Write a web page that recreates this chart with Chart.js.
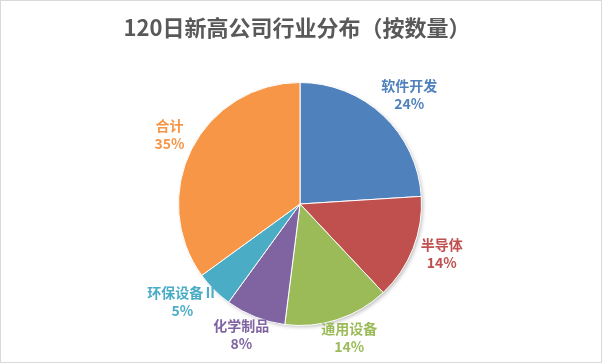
<!DOCTYPE html>
<html>
<head>
<meta charset="utf-8">
<script src="https://cdn.jsdelivr.net/npm/chart.js@4"></script>
<style>
  html, body { margin: 0; padding: 0; background: #fff; }
  #wrap { width: 602px; height: 363px; position: relative; }
</style>
</head>
<body>
<div id="wrap"><canvas id="pie"></canvas></div>
<script>
const chartTitle = '120日新高公司行业分布（按数量）';
const industries = ['软件开发', '半导体', '通用设备', '化学制品', '环保设备Ⅱ', '合计'];
const shares = [24, 14, 14, 8, 5, 35];
const sliceColors = ['#4F81BD', '#C0504D', '#9BBB59', '#8064A2', '#4BACC6', '#F79646'];

const labelFont = 'bold 14px "Noto Sans CJK SC", sans-serif';

// 标题 + 外框
const frame = {
  id: 'frame',
  beforeDraw(chart) {
    const c = chart.ctx;
    c.save();
    c.fillStyle = '#fff';
    c.fillRect(0, 0, chart.width, chart.height);
    c.strokeStyle = '#D9D9D9';
    c.lineWidth = 1;
    c.strokeRect(0.5, 0.5, chart.width - 1, chart.height - 1);
    c.fillStyle = '#595959';
    c.font = 'bold 22px "Noto Sans CJK SC", sans-serif';
    c.textAlign = 'center';
    c.textBaseline = 'middle';
    c.fillText(chartTitle, chart.width / 2 - 4, 28);
    c.restore();
  },
  // 饼图下的淡阴影
  beforeDatasetsDraw(chart) {
    const arc = chart.getDatasetMeta(0).data[0];
    if (!arc) return;
    const p = arc.getProps(['x', 'y', 'outerRadius'], true);
    const c = chart.ctx;
    c.save();
    c.shadowColor = 'rgba(0,0,0,0.3)';
    c.shadowBlur = 4;
    c.shadowOffsetX = 2;
    c.shadowOffsetY = 2;
    c.fillStyle = '#fff';
    c.beginPath();
    c.arc(p.x, p.y, p.outerRadius - 1, 0, Math.PI * 2);
    c.fill();
    c.restore();
  }
};

// 扇区外侧的数据标签（类别名 + 百分比）
const outsideLabels = {
  id: 'outsideLabels',
  afterDatasetsDraw(chart) {
    const c = chart.ctx;
    const meta = chart.getDatasetMeta(0);
    const total = shares.reduce((a, b) => a + b, 0);
    c.save();
    c.font = labelFont;
    c.textAlign = 'center';
    c.textBaseline = 'middle';
    meta.data.forEach((arc, i) => {
      const p = arc.getProps(['x', 'y', 'startAngle', 'endAngle', 'outerRadius'], true);
      const mid = (p.startAngle + p.endAngle) / 2;
      const line1 = industries[i];
      const line2 = Math.round(shares[i] / total * 100) + '%';
      const w = Math.max(c.measureText(line1).width, c.measureText(line2).width);
      const cx = p.x + Math.cos(mid) * (p.outerRadius + 10 + w / 2);
      const cy = p.y - 4 + Math.sin(mid) * (p.outerRadius + 23);
      c.fillStyle = sliceColors[i];
      c.fillText(line1, cx, cy - 9);
      c.fillText(line2, cx, cy + 9);
    });
    c.restore();
  }
};

new Chart(document.getElementById('pie'), {
  type: 'pie',
  data: {
    labels: industries,
    datasets: [{
      data: shares,
      backgroundColor: sliceColors,
      borderColor: '#fff',
      borderWidth: 1
    }]
  },
  options: {
    responsive: true,
    maintainAspectRatio: false,
    animation: false,
    layout: { padding: { top: 82, bottom: 37, left: 120, right: 122 } },
    plugins: {
      legend: { display: false },
      title: { display: false },
      tooltip: { enabled: false }
    }
  },
  plugins: [frame, outsideLabels]
});
</script>
</body>
</html>
